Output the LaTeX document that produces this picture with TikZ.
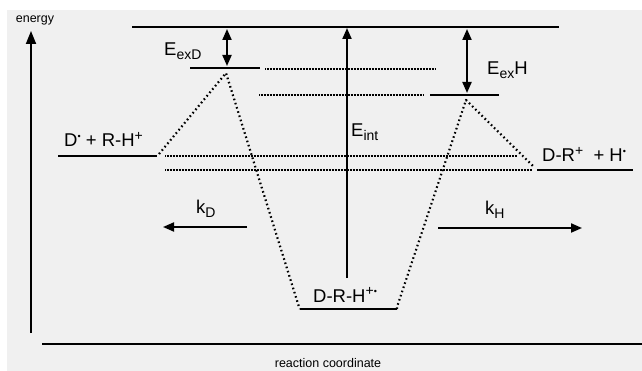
\documentclass[tikz,border=0pt]{standalone}
\usepackage{fontspec}
\setmainfont{Liberation Sans}
\usetikzlibrary{arrows.meta}
\newcommand{\mysup}[1]{\raisebox{6.5pt}{\fontsize{14}{14}\selectfont #1}}
\newcommand{\mysub}[1]{\raisebox{-4pt}{\fontsize{14}{14}\selectfont #1}}
\newcommand{\mydot}{\raisebox{7.5pt}{\fontsize{9}{9}\selectfont •}}
\tikzset{
  level/.style={line width=2.2pt},
  thinlevel/.style={line width=1.1pt},
  guide/.style={line width=1.1pt, dash pattern=on 1pt off 0.5pt},
  path/.style={line width=2.2pt, dash pattern=on 1.6pt off 2.8pt},
  arr/.style={line width=2pt, -{Triangle[length=11pt,width=9pt]}},
  darr/.style={line width=2pt, {Triangle[length=11pt,width=9pt]}-{Triangle[length=11pt,width=9pt]}},
  lbl/.style={inner sep=0pt, font=\fontsize{18.5}{20}\selectfont},
  small/.style={inner sep=0pt, font=\fontsize{12.5}{14}\selectfont}
}
\begin{document}
\begin{tikzpicture}[x=1pt,y=-1pt]
\useasboundingbox (0,0) rectangle (642,371);
\fill[white] (0,0) rectangle (642,371);
\fill[gray!12] (7,10) rectangle (642,371);
% axes
\coordinate (ybot) at (31,333);
\coordinate (ytop) at (31,31);
\draw[line width=1.8pt, -{Triangle[length=13pt,width=10pt]}] (ybot) -- (ytop);
\coordinate (xl) at (42,344);
\coordinate (xr) at (642,344);
\draw[line width=2.2pt] (xl) -- (xr);
\node[small] (energy) at (35,20) {energy};
\node[small] (rc) at (328,363) {reaction coordinate};
% top level
\coordinate (topL) at (132,27);
\coordinate (topR) at (559,27);
\draw[thinlevel] (topL) -- (topR);
% transition states
\coordinate (tsDl) at (190,68);
\coordinate (tsDr) at (260,68);
\draw[level] (tsDl) -- (tsDr);
\coordinate (tsHl) at (430,95);
\coordinate (tsHr) at (499,95);
\draw[level] (tsHl) -- (tsHr);
% reactant / product levels
\coordinate (reL) at (58,156);
\coordinate (reR) at (157,156);
\draw[level] (reL) -- (reR);
\coordinate (prL) at (537,170);
\coordinate (prR) at (633,170);
\draw[level] (prL) -- (prR);
\coordinate (inL) at (300,309);
\coordinate (inR) at (397,309);
\draw[level] (inL) -- (inR);
% guide lines
\coordinate (g1a) at (265,69); \coordinate (g1b) at (435,69);
\coordinate (g2a) at (259,95); \coordinate (g2b) at (424,95);
\coordinate (g3a) at (165,156); \coordinate (g3b) at (517,156);
\coordinate (g4a) at (165,170); \coordinate (g4b) at (532,170);
\draw[guide] (g1a) -- (g1b);
\draw[guide] (g2a) -- (g2b);
\draw[guide] (g3a) -- (g3b);
\draw[guide] (g4a) -- (g4b);
% reaction path
\coordinate (pkD) at (226,73);
\coordinate (pkH) at (466,100);
\coordinate (pEnd) at (533,166);
\draw[path, line join=round] (159,154) -- (pkD) -- (299,307) -- (inL);
\draw[path, line join=round] (inR) -- (397,307) -- (pkH) -- (pEnd);
% energy arrows
\coordinate (eD1) at (227,29); \coordinate (eD2) at (227,66);
\draw[darr] (eD1) -- (eD2);
\coordinate (eH1) at (467,29); \coordinate (eH2) at (467,93);
\draw[darr] (eH1) -- (eH2);
\coordinate (ei1) at (347,278); \coordinate (ei2) at (347,28);
\draw[arr] (ei1) -- (ei2);
% rate arrows
\coordinate (kD1) at (247,227); \coordinate (kD2) at (163,227);
\draw[arr] (kD1) -- (kD2);
\coordinate (kH1) at (438,228); \coordinate (kH2) at (582,228);
\draw[arr] (kH1) -- (kH2);
% labels
\node[lbl, anchor=base west] (lExD) at (164,56) {E\mysub{exD}};
\node[lbl, anchor=base west] (lExH) at (487,75) {E\mysub{ex}H};
\node[lbl, anchor=base west] (lEint) at (351,137) {E\mysub{int}};
\node[lbl, anchor=base west] (lReact) at (64,147) {D\mydot{} + R-H\mysup{+}};
\node[lbl, anchor=base west] (lProd) at (542,162) {D-R\mysup{+}\ \ + H\mydot};
\node[lbl, anchor=base west] (lInt) at (313,302) {D-R-H\mysup{+}\mydot};
\node[lbl, anchor=base west] (lkD) at (196,214) {k\mysub{D}};
\node[lbl, anchor=base west] (lkH) at (485,215) {k\mysub{H}};
\end{tikzpicture}
\end{document}
